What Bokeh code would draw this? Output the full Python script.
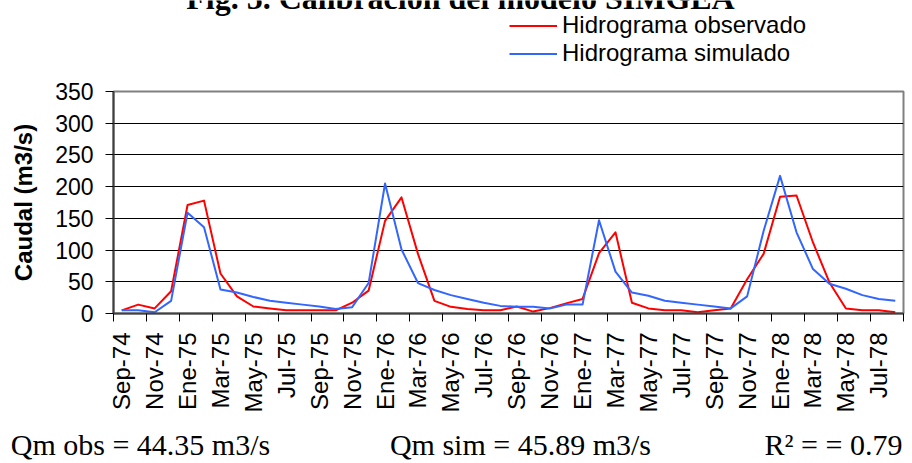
import math
from bokeh.plotting import figure
from bokeh.models import Range1d, FixedTicker, Legend, LegendItem, Label, LinearAxis
from bokeh.layouts import column
from bokeh.embed import file_html
from bokeh.resources import INLINE

# ---- data -------------------------------------------------------------
months = ["Sep-74", "Oct-74", "Nov-74", "Dic-74", "Ene-75", "Feb-75", "Mar-75", "Abr-75",
          "May-75", "Jun-75", "Jul-75", "Ago-75", "Sep-75", "Oct-75", "Nov-75", "Dic-75",
          "Ene-76", "Feb-76", "Mar-76", "Abr-76", "May-76", "Jun-76", "Jul-76", "Ago-76",
          "Sep-76", "Oct-76", "Nov-76", "Dic-76", "Ene-77", "Feb-77", "Mar-77", "Abr-77",
          "May-77", "Jun-77", "Jul-77", "Ago-77", "Sep-77", "Oct-77", "Nov-77", "Dic-77",
          "Ene-78", "Feb-78", "Mar-78", "Abr-78", "May-78", "Jun-78", "Jul-78", "Ago-78"]

observado = [5, 14, 8, 35, 171, 178, 63, 27, 11, 8, 5, 5, 5, 5, 17, 36,
             146, 183, 94, 20, 10.5, 7, 5, 5, 11, 3, 8.5, 16, 23, 95, 128, 17,
             8, 5, 5, 2, 5, 8, 54, 94, 184, 186, 112, 49, 8, 5, 5, 2]

simulado = [5, 5, 2, 20, 159, 136, 38, 33, 26, 20, 17, 14, 11, 7, 10, 48,
            205, 101, 48, 37, 29, 23, 17, 12, 10.5, 10.5, 8, 14, 14, 147, 66, 33,
            28, 20, 17, 14, 11, 8, 27, 130, 217, 128, 70, 47, 39, 29, 23, 20]

y_ticks = [0, 50, 100, 150, 200, 250, 300, 350]

titulo = "Fig. 5. Calibraci\u00f3n del modelo SIMGEA"
serie_obs = "Hidrograma observado"
serie_sim = "Hidrograma simulado"
eje_y = "Caudal (m3/s)"
estadisticos = ["Qm obs = 44.35 m3/s", "Qm sim = 45.89 m3/s", "R\u00b2 = = 0.79"]

RED = "#ff0000"
BLUE = "#3366ff"
W = 912
H_TOP, H_MAIN = 68, 395
BL, BR = 113, 9          # frame borders (shared by both rows of the column)

n = len(months)
xs = [i + 0.5 for i in range(n)]

# ---- top strip: title (cut at the top, as in the original) + legend ----------
p_top = figure(width=W, height=H_TOP, output_backend="svg", toolbar_location=None,
               x_range=Range1d(0, n), y_range=Range1d(1000, 1100),
               x_axis_location=None, y_axis_location=None,
               min_border_left=0, min_border_right=0, min_border_top=0, min_border_bottom=0)
p_top.outline_line_color = None
p_top.xgrid.visible = False
p_top.ygrid.visible = False
p_top.background_fill_color = "white"
p_top.border_fill_color = "white"
# same series, outside this strip's view: only their legend swatches show
t_obs = p_top.line(xs, observado, line_color=RED, line_width=2)
t_sim = p_top.line(xs, simulado, line_color=BLUE, line_width=2)

legend = Legend(items=[LegendItem(label=serie_obs, renderers=[t_obs]),
                       LegendItem(label=serie_sim, renderers=[t_sim])],
                location=(396, 1), orientation="vertical",
                padding=0, margin=0, spacing=0,
                glyph_width=48, glyph_height=27, label_height=27,
                label_standoff=5,
                label_text_font="Liberation Sans", label_text_font_size="24px",
                label_text_color="black",
                border_line_color=None, background_fill_alpha=0)
p_top.add_layout(legend, "center")
p_top.add_layout(Label(x=347, y=H_TOP + 3, x_units="screen", y_units="screen", text=titulo,
                       text_font="Liberation Serif", text_font_size="32px",
                       text_font_style="bold", text_align="center",
                       text_baseline="alphabetic", text_color="black"))

# ---- main chart -----------------------------------------------------------
p = figure(width=W, height=H_MAIN, output_backend="svg", toolbar_location=None,
           x_range=Range1d(0, n), y_range=Range1d(0, 350),
           min_border_left=BL, min_border_right=BR, min_border_top=23, min_border_bottom=150)

p.background_fill_color = "white"
p.border_fill_color = "white"
p.outline_line_color = "#808080"
p.outline_line_width = 2

p.line(xs, observado, line_color=RED, line_width=2, line_join="round")
p.line(xs, simulado, line_color=BLUE, line_width=2, line_join="round")

xa = p.xaxis[0]
xa.ticker = FixedTicker(ticks=[xs[i] for i in range(0, n, 2)],
                        minor_ticks=list(range(0, n + 1, 2)))
xa.major_label_overrides = {xs[i]: months[i] for i in range(0, n, 2)}
xa.major_label_orientation = math.pi / 2
xa.major_tick_out = 0
xa.major_tick_in = 0
xa.minor_tick_out = 8
xa.minor_tick_in = 0
xa.minor_tick_line_color = "black"
xa.major_label_standoff = 11
xa.major_label_text_font = "Liberation Sans"
xa.major_label_text_font_size = "24px"
xa.major_label_text_color = "black"
xa.axis_line_color = "#404040"
xa.axis_line_width = 2

ya = p.yaxis[0]
ya.ticker = FixedTicker(ticks=y_ticks)
ya.major_tick_out = 8
ya.major_tick_in = 0
ya.minor_tick_out = 0
ya.minor_tick_in = 0
ya.major_tick_line_color = "black"
ya.major_label_standoff = 12
ya.major_label_text_font = "Liberation Sans"
ya.major_label_text_font_size = "23px"
ya.major_label_text_color = "black"
ya.axis_line_color = "#404040"
ya.axis_line_width = 2
ya.axis_label = eje_y
ya.axis_label_text_font = "Liberation Sans"
ya.axis_label_text_font_style = "bold"
ya.axis_label_text_font_size = "24px"
ya.axis_label_text_color = "black"
ya.axis_label_standoff = 15

p.xgrid.visible = False
p.ygrid.grid_line_color = "black"
p.ygrid.grid_line_width = 1

# summary line under the chart: a bare axis in page-pixel units carries the three texts
p.extra_x_ranges = {"px": Range1d(BL, W - BR)}
centres = [140, 520, 833]
stats_axis = LinearAxis(x_range_name="px",
                        ticker=FixedTicker(ticks=centres),
                        major_label_overrides={c: t for c, t in zip(centres, estadisticos)})
stats_axis.axis_line_color = None
stats_axis.major_tick_line_color = None
stats_axis.minor_tick_line_color = None
stats_axis.major_tick_out = 0
stats_axis.major_tick_in = 0
stats_axis.minor_tick_out = 0
stats_axis.minor_tick_in = 0
stats_axis.major_label_standoff = 12
stats_axis.major_label_orientation = "horizontal"
stats_axis.major_label_text_font = "Liberation Serif"
stats_axis.major_label_text_font_size = "30px"
stats_axis.major_label_text_color = "black"
p.add_layout(stats_axis, "below")

layout = column(p_top, p, spacing=0)
open("out.html", "w").write(file_html(layout, INLINE))
